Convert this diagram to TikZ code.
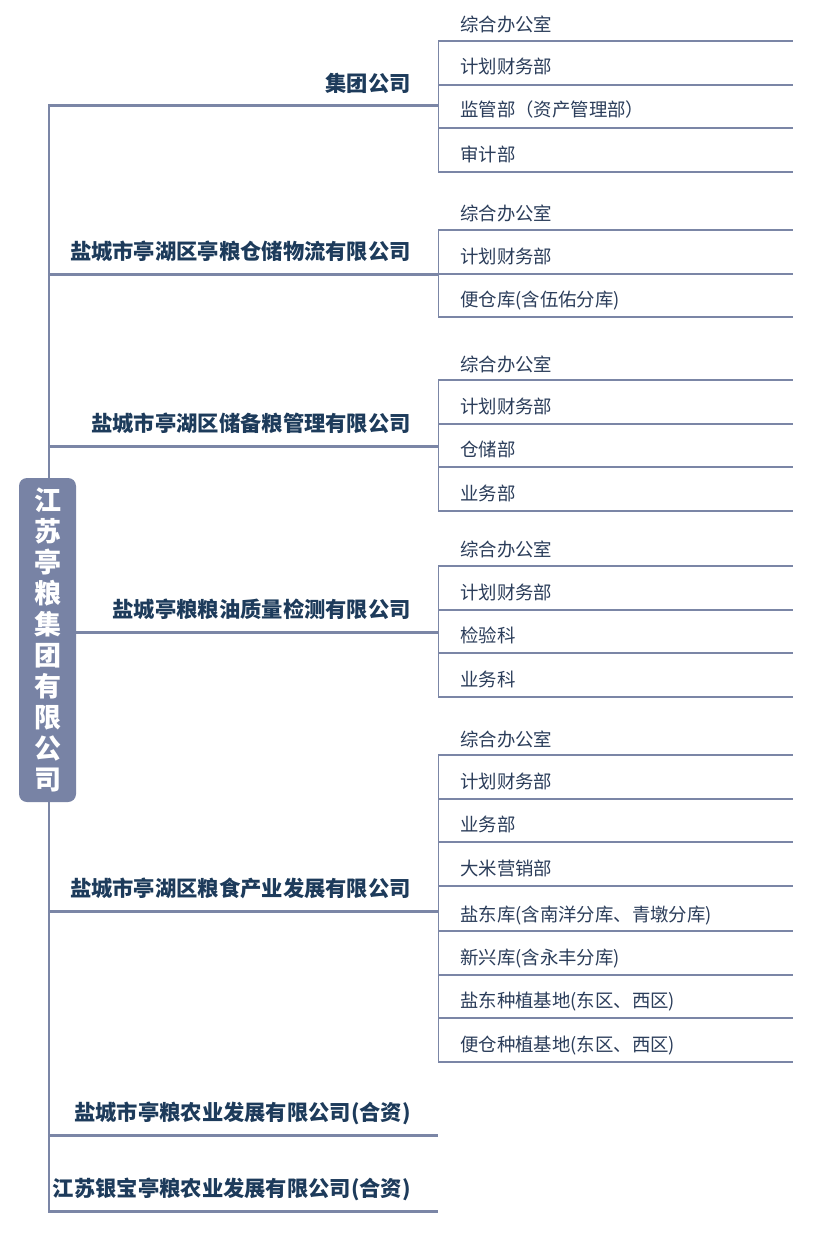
\documentclass[tikz,border=0pt]{standalone}
\usepackage{fontspec}
\newfontfamily\cjk{Noto Sans CJK SC}
\definecolor{linec}{HTML}{7B86A6}
\definecolor{rootc}{HTML}{7883A5}
\definecolor{compc}{HTML}{1D3B5B}
\definecolor{deptc}{HTML}{2B3D5A}
\tikzset{
  trunk/.style={draw=linec,line width=1.3pt},
  compline/.style={draw=linec,line width=3pt},
  deptline/.style={draw=linec,line width=1.1pt},
  comptext/.style={anchor=base east,inner sep=0pt,text=compc,font=\cjk\bfseries\fontsize{21.3}{24}\selectfont},
  depttext/.style={anchor=base west,inner sep=0pt,text=deptc,font=\cjk\fontsize{18.4}{21}\selectfont},
  rootbox/.style={fill=rootc,rounded corners=8pt,minimum width=57pt,minimum height=324pt,inner sep=0pt,text=white,align=center,font=\cjk\bfseries\fontsize{27}{31}\selectfont}
}
\begin{document}
\begin{tikzpicture}[x=1pt,y=-1pt]
\useasboundingbox[fill=white] (0,0) rectangle (836,1236);
% trunk
\coordinate (ttop) at (49,105);
\coordinate (tbot) at (49,1211);
\draw[trunk] (ttop) -- (tbot);
% company lines
\foreach \i/\y in {1/106,2/274,3/446,4/632,5/911,6/1135,7/1211}{
  \coordinate (ca\i) at (48,\y);
  \coordinate (cb\i) at (438,\y);
  \draw[compline] (ca\i) -- (cb\i);
}
% department verticals
\foreach \g/\a/\b in {1/41/172,2/230/317,3/380/511,4/566/697,5/755/1062}{
  \coordinate (va\g) at (438.5,\a);
  \coordinate (vb\g) at (438.5,\b);
  \draw[deptline] (va\g) -- (vb\g);
}
% department horizontals
\foreach \k/\y in {1/41,2/85,3/128,4/172,5/230,6/274,7/317,8/380,9/424,10/467,11/511,12/566,13/610,14/653,15/697,16/755,17/799,18/842,19/886,20/931,21/975,22/1018,23/1062}{
  \coordinate (da\k) at (438,\y);
  \coordinate (db\k) at (793,\y);
  \draw[deptline] (da\k) -- (db\k);
}
% root
\node[rootbox] (root) at (47.5,640) {江\\苏\\亭\\粮\\集\\团\\有\\限\\公\\司};
% companies
\node[comptext] (c1) at (411,92) {集团公司};
\node[comptext] (c2) at (411,259) {盐城市亭湖区亭粮仓储物流有限公司};
\node[comptext] (c3) at (411,431) {盐城市亭湖区储备粮管理有限公司};
\node[comptext] (c4) at (411,617) {盐城亭粮粮油质量检测有限公司};
\node[comptext] (c5) at (411,896) {盐城市亭湖区粮食产业发展有限公司};
\node[comptext] (c6) at (411,1120) {盐城市亭粮农业发展有限公司(合资)};
\node[comptext] (c7) at (411,1196) {江苏银宝亭粮农业发展有限公司(合资)};
% departments
\foreach \n/\y/\t in {
  1/25/综合办公室, 2/67/计划财务部, 3/110/监管部（资产管理部）, 4/154/审计部,
  5/213/综合办公室, 6/256/计划财务部, 7/299/便仓库(含伍佑分库),
  8/364/综合办公室, 9/406/计划财务部, 10/449/仓储部, 11/493/业务部,
  12/549/综合办公室, 13/592/计划财务部, 14/635/检验科, 15/679/业务科,
  16/739/综合办公室, 17/781/计划财务部, 18/824/业务部, 19/868/大米营销部,
  20/914/盐东库(含南洋分库、青墩分库), 21/957/新兴库(含永丰分库),
  22/1000/盐东种植基地(东区、西区), 23/1044/便仓种植基地(东区、西区)}{
  \node[depttext] (d\n) at (460,\y+7) {\t};
}
\end{tikzpicture}
\end{document}
